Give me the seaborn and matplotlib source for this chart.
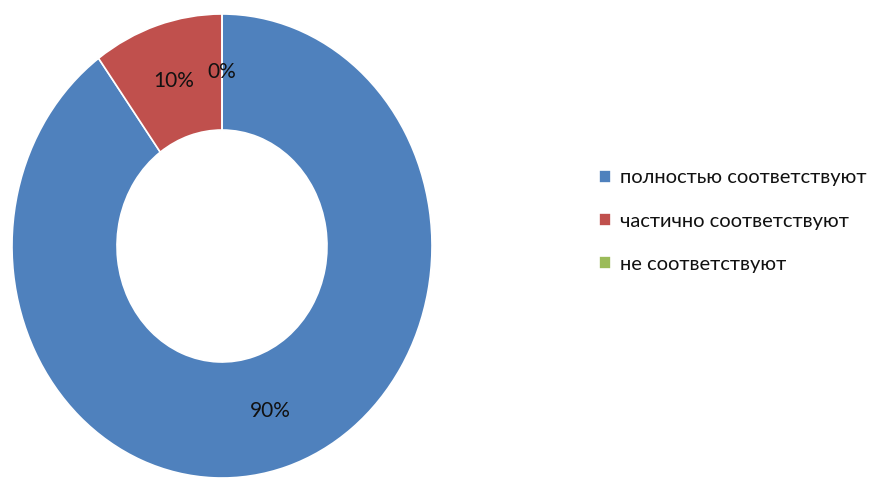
import matplotlib
matplotlib.use("Agg")
import matplotlib.pyplot as plt
import seaborn as sns

# Data
categories = ["полностью соответствуют", "частично соответствуют", "не соответствуют"]
shares = [90, 10, 0]
colors = ["#4F81BD", "#C0504D", "#9BBB59"]

sns.set_theme(style="white")
plt.rcParams["font.family"] = ["Lato", "DejaVu Sans"]

fig = plt.figure(figsize=(8.72, 4.8), dpi=100)
# donut is stretched vertically in the reference, so use a non-square axes
ax = fig.add_axes([12 / 872, 2 / 480, 420 / 872, 464 / 480])

wedges, texts, autotexts = ax.pie(
    shares,
    colors=colors,
    startangle=90,
    counterclock=False,
    autopct="%.0f%%",
    pctdistance=0.75,
    wedgeprops=dict(width=0.5, edgecolor="white", linewidth=1.2),
    textprops=dict(fontsize=15, color="#111111"),
)
ax.set_aspect("auto")
ax.set_xlim(-1.0, 1.0)
ax.set_ylim(-1.0, 1.0)

leg = fig.legend(
    wedges,
    categories,
    loc="center left",
    bbox_to_anchor=(581 / 872, 1 - 221 / 480),
    frameon=False,
    fontsize=14.5,
    handlelength=0.6,
    handleheight=0.6,
    handletextpad=0.45,
    labelspacing=1.3,
)
for t in leg.get_texts():
    t.set_color("#111111")

fig.savefig("out.png", dpi=100)
